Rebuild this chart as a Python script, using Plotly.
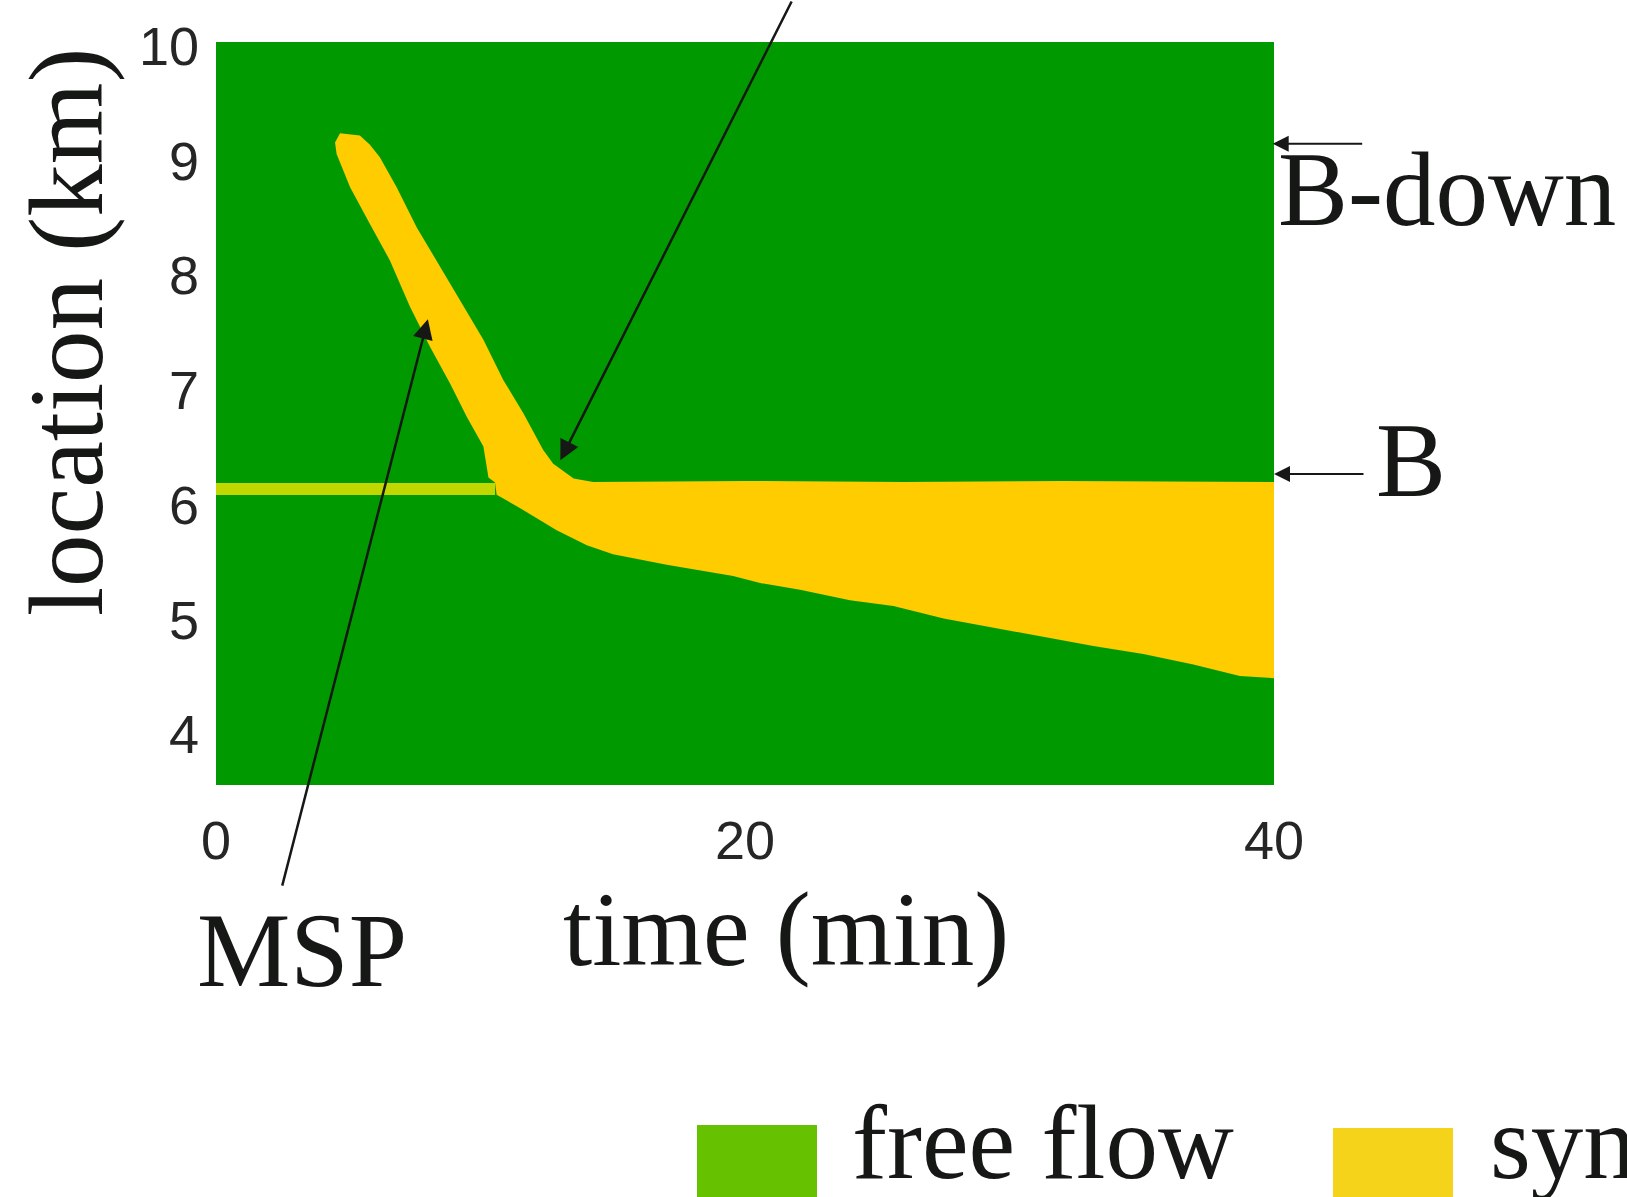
import plotly.graph_objects as go

# ---- data (time in min, location in km) ----
cap_t = [4.69, 5.44, 5.82]
cap_loc = [9.24, 9.22, 9.14]

msp_left_t = [4.50, 4.56, 5.07, 5.82, 6.58, 7.33, 8.09, 8.85, 9.48, 10.11, 10.23, 10.30, 10.55]
msp_left_loc = [9.16, 9.06, 8.77, 8.45, 8.13, 7.73, 7.38, 7.06, 6.77, 6.51, 6.33, 6.24, 6.195]

msp_right_t = [6.20, 6.83, 7.59, 8.34, 9.22, 10.11, 10.86, 11.62, 12.37, 12.75, 13.52, 14.26]
msp_right_loc = [9.03, 8.77, 8.42, 8.13, 7.79, 7.44, 7.09, 6.80, 6.48, 6.36, 6.23, 6.20]

front_t = [10.61, 11.37, 12.88, 14.02, 15.01, 17.04, 19.55, 20.57, 22.08, 23.97, 25.61,
           27.51, 29.40, 31.28, 33.17, 35.06, 36.95, 38.71, 40.0]
front_loc = [6.09, 5.99, 5.78, 5.65, 5.57, 5.48, 5.38, 5.32, 5.26, 5.17, 5.12,
             5.01, 4.93, 4.85, 4.77, 4.70, 4.61, 4.51, 4.49]

sync_top_t = [14.26, 20.0, 26.0, 32.0, 40.0]
sync_top_loc = [6.20, 6.21, 6.20, 6.21, 6.20]

bar_t = [0.0, 10.55]
bar_loc = [6.14, 6.14]

x_ticks = [0, 20, 40]
y_ticks = [4, 5, 6, 7, 8, 9, 10]

# ---- congested (synchronized flow) region outline ----
# cap right->left, left edge down, upstream front, downstream front back, right edge up
poly_t = cap_t[::-1] + msp_left_t + front_t + sync_top_t[::-1] + msp_right_t[::-1]
poly_loc = cap_loc[::-1] + msp_left_loc + front_loc + sync_top_loc[::-1] + msp_right_loc[::-1]

GREEN = "#009900"
YELLOW = "#ffcc00"
BAR = "#c2d700"
INK = "#161816"
SERIF = "Liberation Serif, Times New Roman, serif"
SANS = "Liberation Sans, Arial, sans-serif"

fig = go.Figure()
fig.add_trace(go.Scatter(x=poly_t, y=poly_loc, fill="toself", fillcolor=YELLOW,
                         mode="lines", line=dict(width=0, color=YELLOW),
                         hoverinfo="skip", showlegend=False))
fig.add_trace(go.Scatter(x=bar_t, y=bar_loc, mode="lines",
                         line=dict(width=12, color=BAR), hoverinfo="skip", showlegend=False))

L, R, T, B = 216, 1274, 41.5, 785.5
W, H = 1627, 1197
pw, ph = R - L, B - T


def px(X):
    return (X - L) / pw


def py(Y):
    return (B - Y) / ph


fig.update_layout(
    width=W, height=H,
    margin=dict(l=L, r=W - R, t=T, b=H - B, pad=0),
    paper_bgcolor="white", plot_bgcolor=GREEN,
    showlegend=False,
    xaxis=dict(range=[0, 40], tickvals=x_ticks, showgrid=False, zeroline=False,
               showline=False, ticks="", ticklabelstandoff=19,
               tickfont=dict(family=SANS, size=54, color="#262626")),
    yaxis=dict(range=[3.559, 10.036], tickvals=y_ticks, showgrid=False, zeroline=False,
               showline=False, ticks="", ticklabelstandoff=16,
               tickfont=dict(family=SANS, size=54, color="#262626")),
)

big = dict(family=SERIF, size=105, color=INK)
ann = []
# axis titles
ann.append(dict(text="time (min)", xref="paper", yref="paper", x=px(786), y=py(930),
                xanchor="center", yanchor="middle", showarrow=False, font=big))
ann.append(dict(text="location (km)", xref="paper", yref="paper", x=px(66), y=py(332),
                xanchor="center", yanchor="middle", textangle=-90, showarrow=False, font=big))
# labels
ann.append(dict(text="MSP", xref="paper", yref="paper", x=px(302), y=py(951),
                xanchor="center", yanchor="middle", showarrow=False, font=big))
ann.append(dict(text="B-down", xref="paper", yref="paper", x=px(1276), y=py(189),
                xanchor="left", yanchor="middle", showarrow=False, font=big))
ann.append(dict(text="B", xref="paper", yref="paper", x=px(1374), y=py(461),
                xanchor="left", yanchor="middle", showarrow=False, font=big))
# arrows
arrow = dict(text="", showarrow=True, arrowhead=2, arrowcolor=INK, standoff=0)
ann.append(dict(arrow, x=8.01, y=7.62, xref="x", yref="y", ax=-146, ay=568,
                arrowwidth=2.5, arrowsize=1.6))
ann.append(dict(arrow, x=13.02, y=6.39, xref="x", yref="y", ax=232, ay=-480,
                arrowwidth=2.5, arrowsize=1.6))
ann.append(dict(arrow, x=39.95, y=9.15, xref="x", yref="y", ax=91, ay=0,
                arrowwidth=2, arrowsize=1.6))
ann.append(dict(arrow, x=40.0, y=6.27, xref="x", yref="y", ax=91, ay=0,
                arrowwidth=2, arrowsize=1.6))
# legend texts
ann.append(dict(text="free flow", xref="paper", yref="paper", x=px(850), y=py(1143),
                xanchor="left", yanchor="middle", showarrow=False, font=big))
ann.append(dict(text="synchronized flow", xref="paper", yref="paper", x=px(1488), y=py(1143),
                xanchor="left", yanchor="middle", showarrow=False, font=big))
fig.update_layout(annotations=ann)

# legend swatches
fig.add_shape(type="rect", xref="paper", yref="paper", x0=px(697), x1=px(817),
              y0=py(1126), y1=py(1215), fillcolor="#66c200", line=dict(width=0))
fig.add_shape(type="rect", xref="paper", yref="paper", x0=px(1333), x1=px(1453),
              y0=py(1129), y1=py(1215), fillcolor="#f5d31a", line=dict(width=0))

fig.write_html("out.html")
